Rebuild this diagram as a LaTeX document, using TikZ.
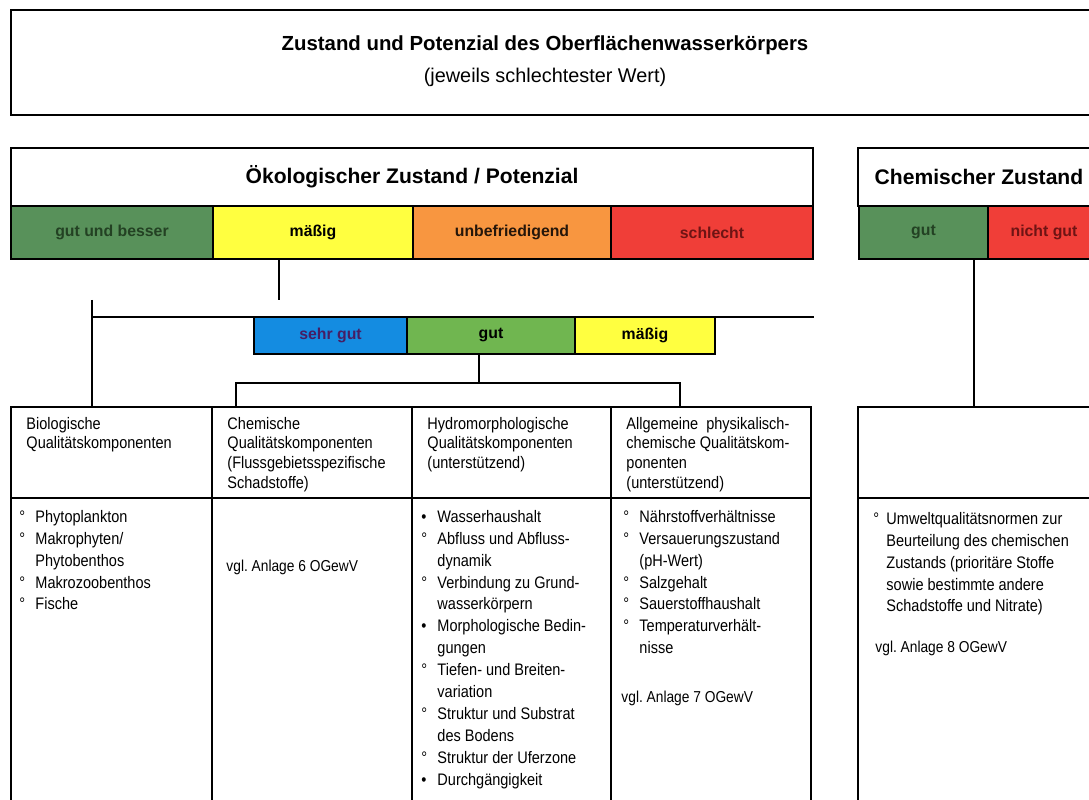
\documentclass[tikz,border=0pt]{standalone}
\usepackage{fontspec}
\setmainfont{Liberation Sans}
\newfontfamily\schmal{Liberation Sans}[FakeStretch=0.87]
\definecolor{dgruen}{RGB}{88,145,90}
\definecolor{gelb}{RGB}{255,255,64}
\definecolor{orange2}{RGB}{248,150,64}
\definecolor{rot}{RGB}{240,62,56}
\definecolor{blau}{RGB}{20,140,225}
\definecolor{hgruen}{RGB}{112,182,80}
\definecolor{tgruen}{RGB}{35,65,35}
\definecolor{trot}{RGB}{110,20,20}
\definecolor{tblau}{RGB}{70,30,100}
\tikzset{box/.style={draw, line width=1pt, inner sep=0pt},
 stufe/.style={box, minimum height=53*0.02cm, font=\bfseries\fontsize{9}{10}\selectfont},
 stufe2/.style={stufe, minimum height=37*0.02cm},
 kopf/.style={box, minimum height=58*0.02cm, font=\bfseries\fontsize{12}{14}\selectfont},
 zeile/.style={box, minimum height=91*0.02cm},
 feld/.style={box, minimum height=332*0.02cm},
 txt/.style={anchor=base west, inner sep=0pt, font=\schmal\fontsize{9.5}{11.3}\selectfont},
 liste/.style={txt, font=\schmal\fontsize{9.5}{12.5}\selectfont},
 vgl/.style={txt, font=\schmal\fontsize{9}{11}\selectfont},
 linie/.style={line width=0.9pt},
 }
\newcommand{\kr}{°}
\newcommand{\pk}{•}

\begin{document}
\begin{tikzpicture}[x=0.02cm,y=-0.02cm]
        \useasboundingbox (0,0) rectangle (1089,800);
        \fill[white] (0,0) rectangle (1089,800);
        \clip (0,0) rectangle (1089,800);

        % Gesamtbewertung
        \node[box, minimum width=1089*0.02cm, minimum height=105*0.02cm] (gesamt) at (555.5,62.5) {};
        \node[font=\bfseries\fontsize{11.6}{14}\selectfont] (titel) at (545,45) {Zustand und Potenzial des Oberflächenwasserkörpers};
        \node[font=\fontsize{11.3}{14}\selectfont] (wert) at (545,77) {(jeweils schlechtester Wert)};

        % oekologisch
        \node[kopf, minimum width=802*0.02cm] (oeko) at (412,177) {Ökologischer Zustand / Potenzial};
        \node[stufe, fill=dgruen, text=tgruen, minimum width=202*0.02cm] (egut) at (112,232.5) {gut und besser};
        \node[stufe, fill=gelb, minimum width=200*0.02cm] (emaessig) at (313,232.5) {mäßig};
        \node[stufe, fill=orange2, text=black!85!orange2, minimum width=198*0.02cm] (eunbef) at (512,232.5) {unbefriedigend};
        \node[stufe, fill=rot, text=trot, minimum width=202*0.02cm] (eschlecht) at (712,232.5) {schlecht};

        % chemisch
        \node[kopf, minimum width=242*0.02cm] (chem) at (979,177) {Chemischer Zustand};
        \node[stufe, fill=dgruen, text=tgruen, minimum width=129*0.02cm] (cgut) at (923.5,232.5) {gut};
        \node[stufe, fill=rot, text=trot, minimum width=112*0.02cm] (cnicht) at (1044,232.5) {nicht gut};

        \node[stufe2, fill=blau, text=tblau, minimum width=153*0.02cm] (sgut) at (330.5,335.5) {sehr gut};
        \node[stufe2, fill=hgruen, minimum width=168*0.02cm] (mgut) at (491,335.5) {gut};
        \node[stufe2, fill=gelb, minimum width=140*0.02cm] (mmaessig) at (645,335.5) {mäßig};

        % Spalten
        \node[zeile, minimum width=201*0.02cm] (h1) at (111.5,452.5) {};
        \node[zeile, minimum width=200*0.02cm] (h2) at (312,452.5) {};
        \node[zeile, minimum width=199*0.02cm] (h3) at (511.5,452.5) {};
        \node[zeile, minimum width=200*0.02cm] (h4) at (711,452.5) {};
        \node[zeile, minimum width=242*0.02cm] (hc) at (979,452.5) {};
        \node[feld, minimum width=201*0.02cm] (b1) at (111.5,664) {};
        \node[feld, minimum width=200*0.02cm] (b2) at (312,664) {};
        \node[feld, minimum width=199*0.02cm] (b3) at (511.5,664) {};
        \node[feld, minimum width=200*0.02cm] (b4) at (711,664) {};
        \node[feld, minimum width=242*0.02cm] (bc) at (979,664) {};

        % Verbindungen
        \coordinate (stub) at (279,300);
        \draw[linie] (stub |- emaessig.south) -- (stub);
        \coordinate (astl) at (92,300);
        \coordinate (astr) at (814,317);
        \draw[linie] (astl) -- (astl |- h1.north);
        \draw[linie] (astl |- astr) -- (astr);
        \coordinate (gabel) at (479,383);
        \coordinate (gl) at (236,383);
        \coordinate (gr) at (680,383);
        \draw[linie] (gabel |- mgut.south) -- (gabel);
        \draw[linie] (gl |- h2.north) -- (gl) -- (gr) -- (gr |- h4.north);
        \coordinate (cz) at (974,300);
        \draw[linie] (cz |- cgut.south) -- (cz |- hc.north);

        \node[txt] (k1) at ([shift={(16,23)}]h1.north west) {\begin{tabular}[t]{@{}l@{}}Biologische\\Qualitätskomponenten\end{tabular}};
        \node[txt] (k2) at ([shift={(16,23)}]h2.north west) {\begin{tabular}[t]{@{}l@{}}Chemische\\Qualitätskomponenten\\(Flussgebietsspezifische\\Schadstoffe)\end{tabular}};
        \node[txt] (k3) at ([shift={(16,23)}]h3.north west) {\begin{tabular}[t]{@{}l@{}}Hydromorphologische\\Qualitätskomponenten\\(unterstützend)\end{tabular}};
        \node[txt] (k4) at ([shift={(16,23)}]h4.north west) {\begin{tabular}[t]{@{}l@{}}\makebox[3.26cm][l]{Allgemeine\hfill physikalisch-}\\\makebox[3.26cm][l]{chemische\hfill Qualitätskom-}\\ponenten\\(unterstützend)\end{tabular}};

        \node[liste] (l1) at ([shift={(9,25)}]b1.north west) {\begin{tabular}[t]{@{}p{0.32cm}@{}l@{}}
          \kr & Phytoplankton\\ \kr & Makrophyten/\\ & Phytobenthos\\ \kr & Makrozoobenthos\\ \kr & Fische\end{tabular}};
        \node[vgl] (v2) at ([shift={(15,74)}]b2.north west) {vgl.\ Anlage 6 OGewV};
        \node[liste] (l3) at ([shift={(10,25)}]b3.north west) {\begin{tabular}[t]{@{}p{0.32cm}@{}l@{}}
          \pk & Wasserhaushalt\\ \kr & Abfluss und Abfluss-\\ & dynamik\\ \kr & Verbindung zu Grund-\\ & wasserkörpern\\
          \pk & Morphologische Bedin-\\ & gungen\\ \kr & Tiefen- und Breiten-\\ & variation\\
          \kr & Struktur und Substrat\\ & des Bodens\\ \kr & Struktur der Uferzone\\ \pk & Durchgängigkeit\end{tabular}};
        \node[liste] (l4) at ([shift={(13,25)}]b4.north west) {\begin{tabular}[t]{@{}p{0.32cm}@{}l@{}}
          \kr & Nährstoffverhältnisse\\ \kr & Versauerungszustand\\ & (pH-Wert)\\ \kr & Salzgehalt\\
          \kr & Sauerstoffhaushalt\\ \kr & Temperaturverhält-\\ & nisse\end{tabular}};
        \node[vgl] (v4) at ([shift={(11,205)}]b4.north west) {vgl.\ Anlage 7 OGewV};
        \node[liste] (lc) at ([shift={(16,27)}]bc.north west) {\begin{tabular}[t]{@{}p{0.26cm}@{}l@{}}
          \kr & Umweltqualitätsnormen zur\\ & Beurteilung des chemischen\\ & Zustands (prioritäre Stoffe\\
          & sowie bestimmte andere\\ & Schadstoffe und Nitrate)\end{tabular}};
        \node[vgl] (vc) at ([shift={(18,155)}]bc.north west) {vgl.\ Anlage 8 OGewV};
    \end{tikzpicture}
\end{document}
